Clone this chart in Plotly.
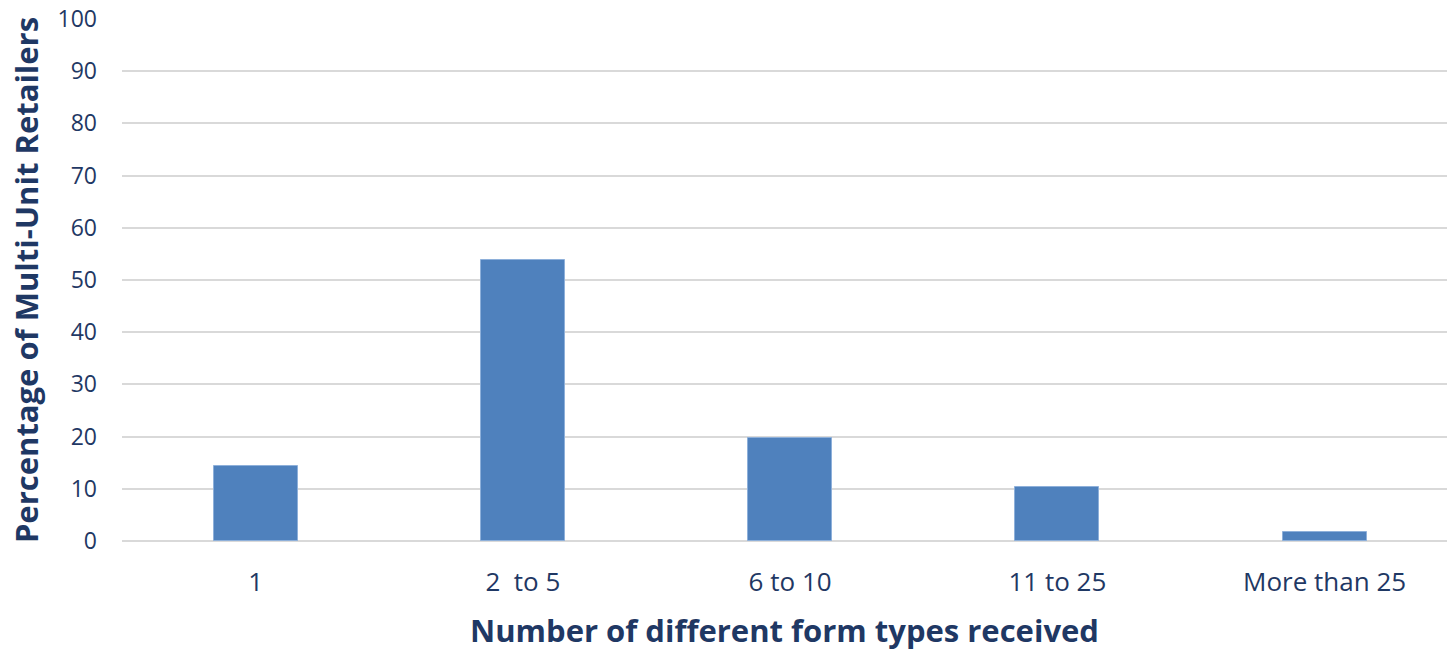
import plotly.graph_objects as go

categories = ["1", "2  to 5", "6 to 10", "11 to 25", "More than 25"]
values = [14.3, 53.8, 19.7, 10.4, 1.7]
y_ticks = [0, 10, 20, 30, 40, 50, 60, 70, 80, 90, 100]

text_color = "#1F3864"
font_family = "Open Sans, sans-serif"

fig = go.Figure(
    go.Bar(
        x=categories,
        y=values,
        marker=dict(color="#4F81BD", line=dict(color="#8EB0DA", width=1)),
        width=0.314,
    )
)

fig.update_layout(
    width=1447,
    height=651,
    margin=dict(l=122, r=0, t=19, b=110),
    plot_bgcolor="white",
    paper_bgcolor="white",
    showlegend=False,
    font=dict(family=font_family, color=text_color),
    bargap=0,
)

fig.update_xaxes(
    type="category",
    range=[-0.5, 4.458],
    showgrid=False,
    showline=False,
    ticks="",
    tickfont=dict(size=26, color=text_color, family=font_family),
    ticklabelstandoff=23,
    title=dict(
        text="<b>Number of different form types received</b>",
        font=dict(size=31, color=text_color, family=font_family),
        standoff=22,
    ),
)

fig.update_yaxes(
    range=[0, 100],
    tickvals=y_ticks,
    showgrid=True,
    gridcolor="#D9D9D9",
    gridwidth=1.5,
    zeroline=True,
    zerolinecolor="#D9D9D9",
    zerolinewidth=1.5,
    showline=False,
    ticks="",
    tickfont=dict(size=23, color=text_color, family=font_family),
    ticklabelstandoff=24,
    title=dict(
        text="<b>Percentage of Multi-Unit Retailers</b>",
        font=dict(size=31, color=text_color, family=font_family),
        standoff=9,
    ),
)

fig.write_html("out.html")
